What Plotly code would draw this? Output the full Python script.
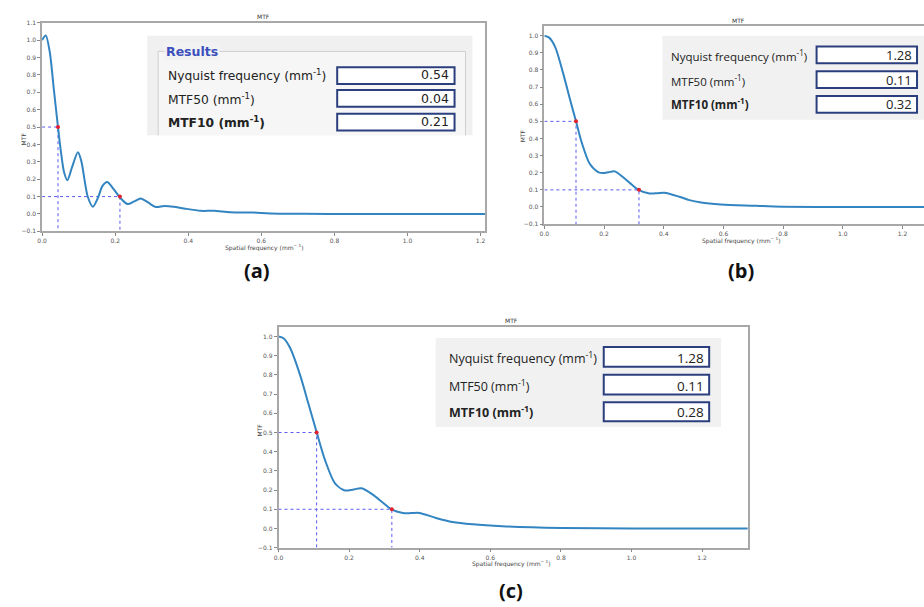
import plotly.graph_objects as go

W, H = 924, 607

# ---------------- data ----------------
freq_a = [0, 0.010, 0.021, 0.032, 0.0435, 0.052, 0.060, 0.069, 0.082, 0.098, 0.107, 0.125,
          0.139, 0.152, 0.165, 0.178, 0.195, 0.213, 0.234, 0.252, 0.270, 0.290, 0.311,
          0.334, 0.360, 0.388, 0.434, 0.470, 0.515, 0.579, 0.624, 0.715, 0.85, 1.0, 1.213]
mtf_a = [1.0, 1.027, 0.932, 0.72, 0.50, 0.35, 0.241, 0.194, 0.27, 0.355, 0.307, 0.099,
         0.042, 0.089, 0.160, 0.184, 0.145, 0.095, 0.057, 0.072, 0.089, 0.066, 0.040,
         0.046, 0.042, 0.032, 0.018, 0.018, 0.010, 0.008, 0.003, 0.001, 0.0, 0.0, 0.0]

freq_b = [0, 0.015, 0.036, 0.063, 0.086, 0.106, 0.125, 0.152, 0.18, 0.197, 0.215, 0.236,
          0.263, 0.29, 0.317, 0.352, 0.38, 0.402, 0.452, 0.486, 0.525, 0.592, 0.692,
          0.798, 1.0, 1.28]
mtf_b = [1.0, 0.99, 0.935, 0.78, 0.627, 0.50, 0.377, 0.252, 0.204, 0.198, 0.203, 0.208,
         0.175, 0.135, 0.098, 0.079, 0.081, 0.083, 0.06, 0.040, 0.026, 0.015, 0.008,
         0.002, 0.0, 0.0]

freq_c = [0, 0.015, 0.033, 0.061, 0.085, 0.108, 0.132, 0.16, 0.188, 0.21, 0.235, 0.268,
          0.295, 0.321, 0.352, 0.375, 0.399, 0.446, 0.493, 0.55, 0.634, 0.80, 1.0, 1.33]
mtf_c = [1.0, 0.99, 0.94, 0.80, 0.648, 0.502, 0.355, 0.235, 0.198, 0.202, 0.209, 0.175,
         0.135, 0.098, 0.081, 0.080, 0.081, 0.055, 0.034, 0.022, 0.012, 0.003, 0.0, 0.0]

mtf50_x = [0.0435, 0.106, 0.108]
mtf10_x = [0.213, 0.317, 0.321]

panel_labels = ["(a)", "(b)", "(c)"]
nyquist_vals = ["0.54", "1.28", "1.28"]
mtf50_vals = ["0.04", "0.11", "0.11"]
mtf10_vals = ["0.21", "0.32", "0.28"]
y_ticks_a = [-0.1, 0.0, 0.1, 0.2, 0.3, 0.4, 0.5, 0.6, 0.7, 0.8, 0.9, 1.0, 1.1]
y_ticks_bc = [-0.1, 0.0, 0.1, 0.2, 0.3, 0.4, 0.5, 0.6, 0.7, 0.8, 0.9, 1.0]
x_ticks = [0.0, 0.2, 0.4, 0.6, 0.8, 1.0, 1.2]

# ---------------- helpers ----------------
def px(x):
    return x / W

def py(y):
    return 1 - y / H

CURVE = "#3385c2"
DOT = "#5a5af2"
RED = "#e3202b"

fig = go.Figure()

panels = [
    dict(f=freq_a, m=mtf_a, xa="x", ya="y"),
    dict(f=freq_b, m=mtf_b, xa="x2", ya="y2"),
    dict(f=freq_c, m=mtf_c, xa="x3", ya="y3"),
]

for i, p in enumerate(panels):
    x50, x10 = mtf50_x[i], mtf10_x[i]
    fig.add_trace(go.Scatter(
        x=[0, x50, x50, None, 0, x10, x10],
        y=[0.5, 0.5, -0.1, None, 0.1, 0.1, -0.1],
        mode="lines", line=dict(color=DOT, width=1, dash="dot"),
        xaxis=p["xa"], yaxis=p["ya"], showlegend=False, hoverinfo="skip"))
    fig.add_trace(go.Scatter(
        x=p["f"], y=p["m"], mode="lines",
        line=dict(color=CURVE, width=2, shape="spline", smoothing=0.8),
        xaxis=p["xa"], yaxis=p["ya"], showlegend=False))
    fig.add_trace(go.Scatter(
        x=[x50, x10], y=[0.5, 0.1], mode="markers",
        marker=dict(color=RED, size=4),
        xaxis=p["xa"], yaxis=p["ya"], showlegend=False))

tickfont = dict(family="DejaVu Sans", size=6, color="#555555")
common_x = dict(showgrid=False, zeroline=False, showline=True, linecolor="#a8a8a8",
                linewidth=1.5, ticks="outside", ticklen=3, tickcolor="#888888",
                tickvals=x_ticks, tickformat=".1f", tickfont=tickfont)
common_y = dict(showgrid=False, zeroline=False, showline=True, linecolor="#a8a8a8",
                linewidth=1.5, ticks="outside", ticklen=3, tickcolor="#888888",
                tickformat=".1f", tickfont=tickfont)

# panel geometry in pixels
geo = [
    dict(x0=37.3, x1=483, y0=19, y1=230, xr=[0, 1.213], yr=[-0.1, 1.1], yt=y_ticks_a),
    dict(x0=542.3, x1=924, y0=22.7, y1=222.7, xr=[0, 1.272], yr=[-0.1, 1.054], yt=y_ticks_bc),
    dict(x0=275, x1=746.7, y0=326.7, y1=550, xr=[0, 1.329], yr=[-0.1, 1.05], yt=y_ticks_bc),
]

layout_axes = {}
for i, g in enumerate(geo):
    sx = "" if i == 0 else str(i + 1)
    xa = dict(common_x, domain=[px(g["x0"]), px(g["x1"])], range=g["xr"],
              anchor="y" + sx, mirror=True)
    ya = dict(common_y, domain=[py(g["y1"]), py(g["y0"])], range=g["yr"],
              anchor="x" + sx, tickvals=g["yt"], mirror=(i != 1))
    layout_axes["xaxis" + sx] = xa
    layout_axes["yaxis" + sx] = ya

fig.update_layout(**layout_axes)

shapes = []
ann = []

def rect(x0, y0, x1, y1, fill, line_color=None, lw=0):
    shapes.append(dict(type="rect", xref="paper", yref="paper",
                       x0=px(x0), x1=px(x1), y0=py(y1), y1=py(y0),
                       fillcolor=fill, layer="above",
                       line=dict(color=line_color or fill, width=lw)))

def text(x, y, s, size, family="DejaVu Sans", color="#222222", xanchor="left",
         bold=False, bg=None):
    if bold:
        s = "<b>" + s + "</b>"
    a = dict(xref="paper", yref="paper", x=px(x), y=py(y), text=s, showarrow=False,
             xanchor=xanchor, yanchor="middle",
             font=dict(family=family, size=size, color=color))
    if bg:
        a["bgcolor"] = bg
    ann.append(a)

sup = "(mm<sup>-1</sup>)"

# ---- small chart texts ----
titles = [(260, 13), (737, 17), (509, 320)]
xlabels = [(260, 246), (740, 239), (509, 566)]
ylabels = [(13, 128), (520, 125), (250, 440)]
for i in range(3):
    text(titles[i][0], titles[i][1], "MTF", 6, color="#333333", xanchor="center")
    text(xlabels[i][0], xlabels[i][1], "Spatial frequency (mm<sup>\u2212 1</sup>)", 6,
         color="#444444", xanchor="center")
    ann.append(dict(xref="paper", yref="paper", x=px(ylabels[i][0]), y=py(ylabels[i][1]),
                    text="MTF", showarrow=False, textangle=-90,
                    font=dict(family="DejaVu Sans", size=6, color="#444444")))

# ---- results box (a) ----
rect(143, 32, 470, 133, "#f0f0f0")
rect(154, 48, 463, 140, "#f6f6f6", "#cfcfcf", 1)
rect(143, 133, 475, 150, "#ffffff")
text(160, 48, "Results", 12.5, color="#3b50bd", bold=True, bg="#f2f2f2")
rows_a = [72, 96, 119]
boxes_a = [(64, 81), (87, 104), (111, 128)]
labels = ["Nyquist frequency " + sup, "MTF50 " + sup, "MTF10 " + sup]
vals_a = [nyquist_vals[0], mtf50_vals[0], mtf10_vals[0]]
for k in range(3):
    rect(334, boxes_a[k][0], 452, boxes_a[k][1], "#ffffff", "#2b3f7e", 2)
    text(162, rows_a[k], labels[k], 12.3, bold=(k == 2))
    text(448, rows_a[k] - 0.5, vals_a[k], 12.5, xanchor="right")

# ---- results box (b) ----
rect(661, 32, 924, 117, "#f1f1f1")
rows_b = [52, 77, 101]
boxes_b = [(43, 60), (68, 85), (93, 110)]
vals_b = [nyquist_vals[1], mtf50_vals[1], mtf10_vals[1]]
for k in range(3):
    rect(816, boxes_b[k][0], 917, boxes_b[k][1], "#ffffff", "#2b3f7e", 2)
    text(668, rows_b[k], labels[k], 11.5, family="Open Sans", bold=(k == 2))
    text(914, rows_b[k], vals_b[k], 13, family="Open Sans", xanchor="right")

# ---- results box (c) ----
rect(433, 338, 720, 428, "#f1f1f1")
rows_c = [358, 386, 413]
boxes_c = [(347, 367), (375, 395), (403, 422)]
vals_c = [nyquist_vals[2], mtf50_vals[2], mtf10_vals[2]]
for k in range(3):
    rect(602, boxes_c[k][0], 708, boxes_c[k][1], "#ffffff", "#2b3f7e", 2)
    text(444, rows_c[k], labels[k], 12.5, family="Open Sans", bold=(k == 2))
    text(705, rows_c[k], vals_c[k], 13.5, family="Open Sans", xanchor="right")

# ---- panel letters ----
letter_pos = [(253, 270), (740, 270), (509, 593)]
for i in range(3):
    text(letter_pos[i][0], letter_pos[i][1], panel_labels[i], 20, family="Open Sans",
         color="#111111", xanchor="center", bold=True)

fig.update_layout(width=W, height=H, margin=dict(l=0, r=0, t=0, b=0),
                  paper_bgcolor="#ffffff", plot_bgcolor="#ffffff",
                  shapes=shapes, annotations=ann, showlegend=False)

fig.write_html("out.html", config={"displayModeBar": False},
               post_script="document.body.style.margin='0';document.body.style.overflow='hidden';")
